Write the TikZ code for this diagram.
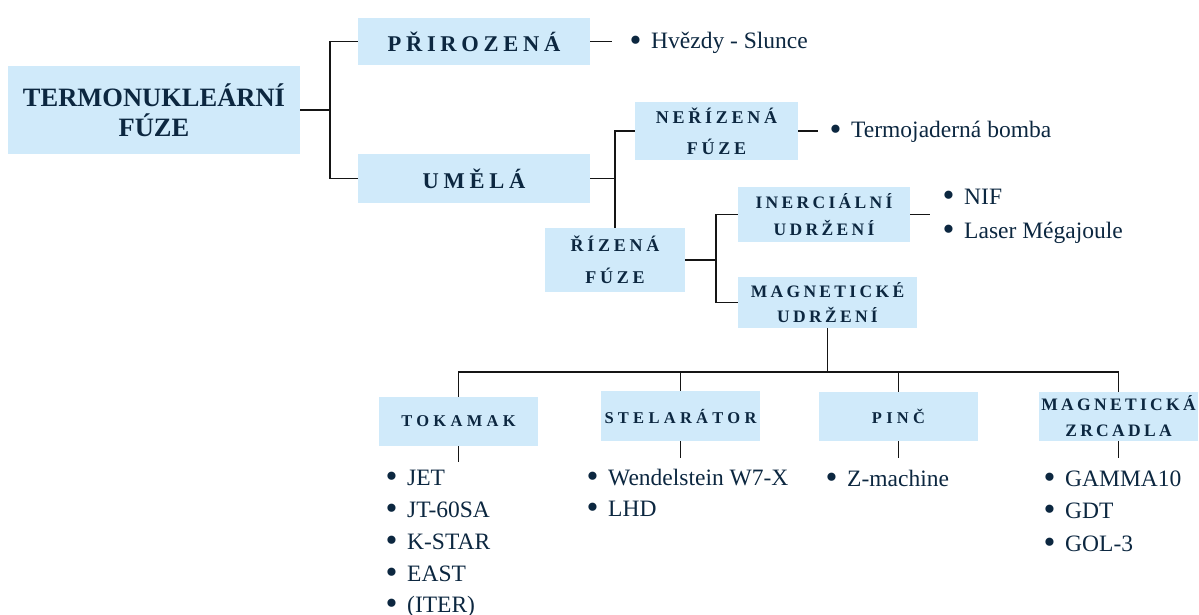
\documentclass[tikz,border=0pt]{standalone}
\usepackage{fontspec}
\setmainfont{Liberation Serif}
\definecolor{boxblue}{HTML}{D0EAFA}
\definecolor{ink}{HTML}{0C2740}
\definecolor{wire}{HTML}{151515}
\newcommand{\bul}[1]{\makebox[20pt][l]{\hspace{-1.5pt}\raisebox{-0.09em}{\scalebox{1.45}{\textbullet}}}#1}
\begin{document}
\begin{tikzpicture}[x=1pt,y=-1pt,
  box/.style={fill=boxblue, inner sep=0pt, align=center, text=ink},
  sp/.style={font=\fontsize{17.5}{#1}\selectfont\bfseries\addfontfeature{LetterSpace=19}},
  nsp/.style={font=\fontsize{18}{#1}\selectfont\bfseries\addfontfeature{LetterSpace=21}},
  onesp/.style={font=\fontsize{16.5}{20}\selectfont\bfseries\addfontfeature{LetterSpace=26}},
  bigsp/.style={font=\fontsize{22.5}{26}\selectfont\bfseries\addfontfeature{LetterSpace=21}},
  item/.style={anchor=base west, inner sep=0pt, text=ink, font=\fontsize{23.5}{28}\selectfont},
  wires/.style={draw=wire, line width=1.8pt}]
\useasboundingbox (0,0) rectangle (1199,615);

% boxes
\node[box, minimum width=292pt, minimum height=88pt, font=\fontsize{26.5}{30}\selectfont\bfseries] (main) at (154,110) {TERMONUKLEÁRNÍ\\FÚZE};
\node[box, bigsp, minimum width=232pt, minimum height=47pt] (prir) at (474,41.5) {PŘIROZENÁ};
\node[box, bigsp, minimum width=232pt, minimum height=49pt] (umela) at (474,178.5) {UMĚLÁ};
\node[box, nsp=31, minimum width=163pt, minimum height=58pt] (neriz) at (716.5,131) {NEŘÍZENÁ\\FÚZE};
\node[box, nsp=32, minimum width=140pt, minimum height=64pt] (riz) at (615,260) {ŘÍZENÁ\\FÚZE};
\node[box, sp=27, minimum width=172pt, minimum height=55pt] (inerc) at (824,214.5) {INERCIÁLNÍ\\UDRŽENÍ};
\node[box, sp=25, minimum width=179pt, minimum height=51pt] (magn) at (827.5,302.5) {MAGNETICKÉ\\UDRŽENÍ};
\node[box, onesp, minimum width=159pt, minimum height=49pt] (tok) at (458.5,421.5) {TOKAMAK};
\node[box, onesp, minimum width=159pt, minimum height=50pt] (stel) at (680.5,416) {STELARÁTOR};
\node[box, onesp, minimum width=159pt, minimum height=49pt] (pinc) at (898.5,416.5) {PINČ};
\node[box, sp=26, minimum width=159pt, minimum height=49pt] (mz) at (1118.5,416.5) {MAGNETICKÁ\\ZRCADLA};

% junction coordinates
\coordinate (j1) at (330,110);
\coordinate (j3) at (716,260);
\coordinate (bar) at (827.5,372);

% connectors
\draw[wires] (main.east) -- (j1);
\draw[wires] (prir.west) -| (j1) |- (umela.west);
\draw[wires] (prir.east) -- ++(22,0) coordinate (e1);
\draw[wires] (umela.east) -- (umela.east -| riz.north);
\draw[wires] (neriz.west) -| (riz.north);
\draw[wires] (neriz.east) -- ++(20,0) coordinate (e2);
\draw[wires] (riz.east) -- (j3);
\draw[wires] (inerc.west) -| (j3) |- (magn.west);
\draw[wires] (inerc.east) -- ++(20,0) coordinate (e3);
\draw[wires] (magn.south) -- (bar);
\draw[wires] (tok.north) |- (bar) -| (mz.north);
\draw[wires] (stel.north) -- (stel.north |- bar);
\draw[wires] (pinc.north) -- (pinc.north |- bar);
\draw[wires] (tok.south) -- ++(0,16);
\draw[wires] (stel.south) -- ++(0,17);
\draw[wires] (pinc.south) -- ++(0,17);
\draw[wires] (mz.south) -- ++(0,17);

% bullet items
\node[item] (i1) at (631,49) {\bul{Hvězdy - Slunce}};
\node[item] (i2) at (831,138) {\bul{Termojaderná bomba}};
\node[item] (i3) at (944,204) {\bul{NIF}};
\node[item] (i4) at (944,238) {\bul{Laser Mégajoule}};
\node[item] (t1) at (387,485) {\bul{JET}};
\node[item] (t2) at (387,517.5) {\bul{JT-60SA}};
\node[item] (t3) at (387,549) {\bul{K-STAR}};
\node[item] (t4) at (387,581) {\bul{EAST}};
\node[item] (t5) at (387,612) {\bul{(ITER)}};
\node[item] (s1) at (588,485) {\bul{Wendelstein W7-X}};
\node[item] (s2) at (588,516) {\bul{LHD}};
\node[item] (p1) at (827,486) {\bul{Z-machine}};
\node[item] (m1) at (1045,486) {\bul{GAMMA10}};
\node[item] (m2) at (1045,518) {\bul{GDT}};
\node[item] (m3) at (1045,551) {\bul{GOL-3}};
\end{tikzpicture}
\end{document}
